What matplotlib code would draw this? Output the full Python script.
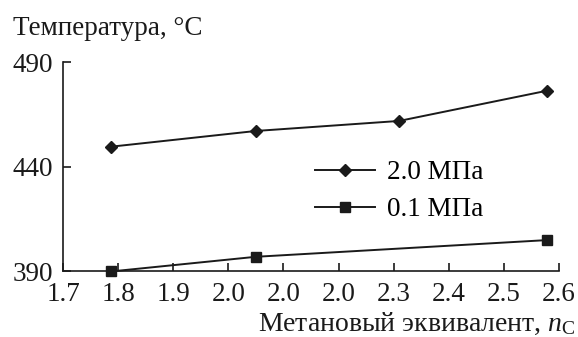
import matplotlib.pyplot as plt

# data
n_c = [1.788, 2.05, 2.31, 2.579]
t_20 = [449.5, 457.0, 461.8, 476.3]
n_c_01 = [1.788, 2.05, 2.579]
t_01 = [389.8, 396.8, 404.8]
x_ticks = [1.7, 1.8, 1.9, 2.0, 2.1, 2.2, 2.3, 2.4, 2.5, 2.6]
x_labels = ['1.7', '1.8', '1.9', '2.0', '2.0', '2.0', '2.3', '2.4', '2.5', '2.6']
y_ticks = [390, 440, 490]

plt.rcParams['font.family'] = ['Liberation Serif', 'DejaVu Serif']
plt.rcParams['mathtext.fontset'] = 'custom'
plt.rcParams['mathtext.it'] = 'Liberation Serif:italic'
plt.rcParams['mathtext.rm'] = 'Liberation Serif'
fs = 19.5
col = '#1a1a1a'

fig = plt.figure(figsize=(5.78, 3.37), dpi=100)
ax = fig.add_axes([63 / 578, 1 - 271 / 337, 496 / 578, 209 / 337])

ax.plot(n_c, t_20, color=col, linewidth=1.4, marker='D', markersize=6,
        label='2.0 МПа', clip_on=False)
ax.plot(n_c_01, t_01, color=col, linewidth=1.4, marker='s', markersize=7.5,
        label='0.1 МПа', clip_on=False)

ax.set_xlim(1.7, 2.6)
ax.set_ylim(390, 490)
ax.set_xticks(x_ticks)
ax.set_xticklabels(x_labels)
ax.set_yticks(y_ticks)
ax.tick_params(direction='in', length=6, width=1.2, labelsize=fs, colors=col)
ax.tick_params(axis='x', pad=8)
ax.tick_params(axis='y', pad=7)
for s in ['top', 'right']:
    ax.spines[s].set_visible(False)
for s in ['left', 'bottom']:
    ax.spines[s].set_linewidth(1.2)
    ax.spines[s].set_color(col)

fig.text(13 / 578, 1 - 35 / 337, 'Температура, °C', fontsize=fs, color=col)
fig.text(575 / 578, 1 - 331 / 337, 'Метановый эквивалент, $n_\\mathrm{C}$', fontsize=fs + 0.5,
         color=col, ha='right')

ax.legend(loc='upper left', bbox_to_anchor=(315 / 578, 1 - 160 / 337),
          bbox_transform=fig.transFigure, frameon=False, fontsize=fs,
          borderpad=0, borderaxespad=0, handlelength=2.2, handletextpad=0.45,
          labelspacing=0.45)

fig.savefig('out.png', dpi=100)
